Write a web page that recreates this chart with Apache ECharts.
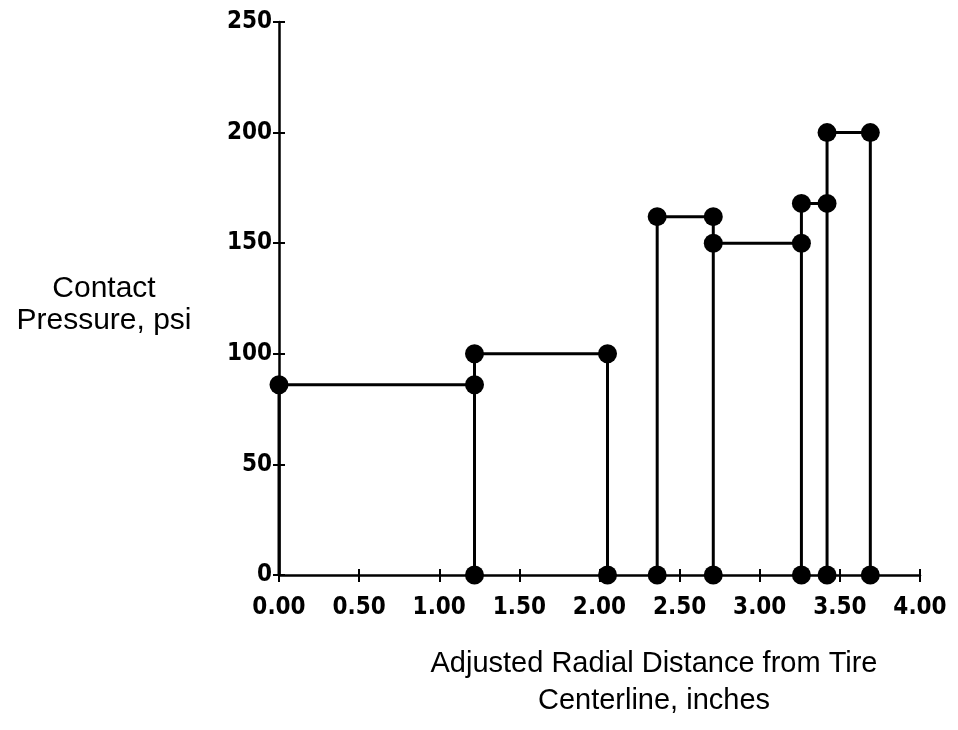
<!DOCTYPE html>
<html><head><meta charset="utf-8">
<script src="https://cdn.jsdelivr.net/npm/echarts@6/dist/echarts.min.js"></script>
<style>html,body{margin:0;padding:0;background:#fff}#c{width:958px;height:730px}</style>
</head><body><div id="c"></div>
<script>
// Data
var xTicks = [0, 0.5, 1, 1.5, 2, 2.5, 3, 3.5, 4];
var yTicks = [0, 50, 100, 150, 200, 250];
// marker points: x (inches), y (psi)
var markX = [0, 1.22, 1.22, 2.05, 2.36, 2.71, 2.71, 3.26, 3.26, 3.42, 3.42, 3.69,
             1.22, 2.05, 2.36, 2.71, 3.26, 3.42, 3.69];
var markY = [86, 86, 100, 100, 162, 162, 150, 150, 168, 168, 200, 200,
             0, 0, 0, 0, 0, 0, 0];
// outline path (x,y) with breaks ("-")
var pathX = [0, 0, 1.22, 1.22, 2.05, 2.05, '-', 2.36, 2.36, 2.71, 2.71, 3.26, 3.26, 3.42, 3.42, 3.69, 3.69, '-',
             1.22, 1.22, '-', 2.71, 2.71, '-', 3.26, 3.26, '-', 3.42, 3.42];
var pathY = [0, 86, 86, 100, 100, 0, '-', 0, 162, 162, 150, 150, 168, 168, 200, 200, 0, '-',
             0, 86, '-', 0, 150, '-', 0, 150, '-', 0, 168];

var lineData = pathX.map(function (x, i) { return x === '-' ? ['-', '-'] : [x, pathY[i]]; });
var markData = markX.map(function (x, i) { return [x, markY[i]]; });

var chart = echarts.init(document.getElementById('c'));
var tickFont = {fontFamily: '"DejaVu Sans Condensed"', fontSize: 24, color: '#000', fontWeight: 'bold'};
chart.setOption({
  animation: false,
  grid: {left: 279, right: 38, top: 22, bottom: 155},
  xAxis: [{
    type: 'value', min: 0, max: 4, interval: 0.5,
    axisLine: {lineStyle: {color: '#000', width: 2.5}},
    axisTick: {show: true, length: 7, lineStyle: {color: '#000', width: 2}},
    splitLine: {show: false},
    axisLabel: Object.assign({margin: 21, formatter: function (v) { return v.toFixed(2); }}, tickFont)
  }, {
    type: 'value', min: 0, max: 4, interval: 0.5, position: 'bottom', offset: 0,
    axisLine: {show: false},
    axisTick: {show: true, inside: true, length: 6, lineStyle: {color: '#000', width: 2}},
    axisLabel: {show: false}, splitLine: {show: false}
  }],
  yAxis: [{
    type: 'value', min: 0, max: 250, interval: 50,
    axisLine: {show: true, lineStyle: {color: '#000', width: 2.5}},
    axisTick: {show: true, length: 6, lineStyle: {color: '#000', width: 2}},
    splitLine: {show: false},
    axisLabel: Object.assign({margin: 7}, tickFont)
  }, {
    type: 'value', min: 0, max: 250, interval: 50, position: 'left', offset: 0,
    axisLine: {show: false},
    axisTick: {show: true, inside: true, length: 6, lineStyle: {color: '#000', width: 2}},
    axisLabel: {show: false}, splitLine: {show: false}
  }],
  graphic: [
    {type: 'text', x: 104, y: 273, style: {text: 'Contact\nPressure, psi', textAlign: 'center', font: '30px "Liberation Sans"', fill: '#000', lineHeight: 32}},
    {type: 'text', x: 654, y: 645, style: {text: 'Adjusted Radial Distance from Tire\nCenterline, inches', textAlign: 'center', font: '29px "Liberation Sans"', fill: '#000', lineHeight: 37}}
  ],
  series: [{
    type: 'line', data: lineData, connectNulls: false, showSymbol: false, symbol: 'none',
    lineStyle: {color: '#000', width: 3}, z: 2
  }, {
    type: 'scatter', data: markData, symbol: 'circle', symbolSize: 19,
    itemStyle: {color: '#000', opacity: 1}, z: 3
  }]
});
</script></body></html>
